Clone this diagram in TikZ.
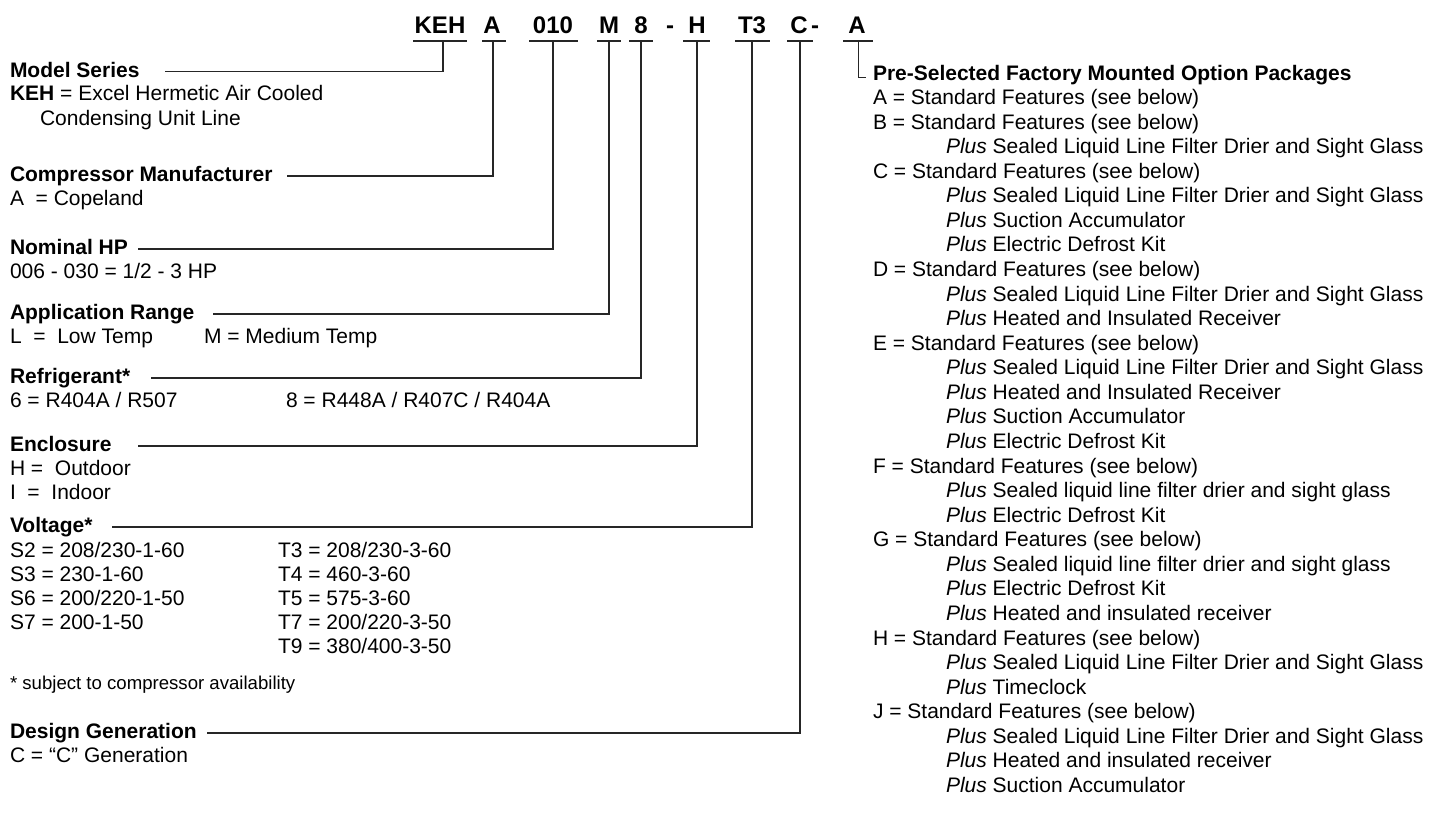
\documentclass[tikz,border=0pt]{standalone}
\usepackage{fontspec}
\setmainfont{Liberation Sans}
\begin{document}
\begin{tikzpicture}[x=1pt,y=-1pt,
  every node/.style={inner sep=0pt,outer sep=0pt},
  txt/.style={anchor=base west,font=\fontsize{21}{24.6}\selectfont},
  small/.style={anchor=base west,font=\fontsize{18.6}{22}\selectfont},
  lbl/.style={anchor=base west,font=\bfseries\fontsize{21}{24.6}\selectfont},
  code/.style={anchor=base,font=\bfseries\fontsize{24}{28}\selectfont},
  conn/.style={line width=1.2pt,black!85},
  uline/.style={line width=1.2pt,black!85}]
\useasboundingbox (0,0) rectangle (1433,819);

% ---- code letters
\node[code] (cKEH) at (440,33) {KEH};
\node[code] (cA)   at (492,33) {A};
\node[code] (cHP)  at (553,33) {010};
\node[code] (cM)   at (609,33) {M};
\node[code] (c8)   at (641,33) {8};
\node[code] (cd1)  at (670,33) {-};
\node[code] (cH)   at (697,33) {H};
\node[code] (cT3)  at (752,33) {T3};
\node[code] (cC)   at (799,33) {C};
\node[code] (cd2)  at (815,33) {-};
\node[code] (cA2)  at (857,33) {A};

% ---- underlines
\draw[uline] (413,41) -- (467,41);
\draw[uline] (482,41) -- (506,41);
\draw[uline] (529,41) -- (578,41);
\draw[uline] (597,41) -- (621,41);
\draw[uline] (629,41) -- (653,41);
\draw[uline] (683,41) -- (710,41);
\draw[uline] (735,41) -- (770,41);
\draw[uline] (787,41) -- (813,41);
\draw[uline] (843,41) -- (873,41);

% ---- connector start points (under the code underlines)
\coordinate (uKEH) at (443,41);
\coordinate (uA)   at (493,41);
\coordinate (uHP)  at (553,41);
\coordinate (uM)   at (609,41);
\coordinate (u8)   at (641,41);
\coordinate (uH)   at (697,41);
\coordinate (uT3)  at (752,41);
\coordinate (uC)   at (800,41);
\coordinate (uA2)  at (858,41);

% ---- connector end points (beside the labels)
\coordinate (eModel) at (165,71.5);
\coordinate (eComp)  at (287,176);
\coordinate (eHP)    at (138,249);
\coordinate (eApp)   at (213,314);
\coordinate (eRef)   at (151,378);
\coordinate (eEnc)   at (138,446);
\coordinate (eVolt)  at (112,527);
\coordinate (eDes)   at (207,733);
\coordinate (eOpt)   at (866,77);

\draw[conn] (uKEH) |- (eModel);
\draw[conn] (uA)   |- (eComp);
\draw[conn] (uHP)  |- (eHP);
\draw[conn] (uM)   |- (eApp);
\draw[conn] (u8)   |- (eRef);
\draw[conn] (uH)   |- (eEnc);
\draw[conn] (uT3)  |- (eVolt);
\draw[conn] (uC)   |- (eDes);
\draw[line width=0.9pt,black!85] (uA2) |- (eOpt);

% ---- left column
\node[lbl] (lModel) at (10,77) {Model Series};
\node[txt] (tModel1) at (10,100.5) {{\bfseries KEH} = Excel Hermetic Air Cooled};
\node[txt] (tModel2) at (40,125) {Condensing Unit Line};

\node[lbl] (lComp) at (10,181.5) {Compressor Manufacturer};
\node[txt] (tComp) at (10,205) {A\ \ = Copeland};

\node[lbl] (lHP) at (10,254.5) {Nominal HP};
\node[txt] (tHP) at (10,278) {006 - 030 = 1/2 - 3 HP};

\node[lbl] (lApp) at (10,319.5) {Application Range};
\node[txt] (tApp1) at (10,343.5) {L\ \ =\ \ Low Temp};
\node[txt] (tApp2) at (204,343.5) {M = Medium Temp};

\node[lbl] (lRef) at (10,383.5) {Refrigerant*};
\node[txt] (tRef1) at (10,407) {6 = R404A / R507};
\node[txt] (tRef2) at (286,407) {8 = R448A / R407C / R404A};

\node[lbl] (lEnc) at (10,451.5) {Enclosure};
\node[txt] (tEnc1) at (10,475.5) {H =\ \ Outdoor};
\node[txt] (tEnc2) at (10,499.5) {I\ \ =\ \ Indoor};

\node[lbl] (lVolt) at (10,532.5) {Voltage*};
\node[txt] (vS2) at (10,557) {S2 = 208/230-1-60};
\node[txt] (vS3) at (10,581) {S3 = 230-1-60};
\node[txt] (vS6) at (10,605) {S6 = 200/220-1-50};
\node[txt] (vS7) at (10,629) {S7 = 200-1-50};
\node[txt] (vT3) at (278,557) {T3 = 208/230-3-60};
\node[txt] (vT4) at (278,581) {T4 = 460-3-60};
\node[txt] (vT5) at (278,605) {T5 = 575-3-60};
\node[txt] (vT7) at (278,629) {T7 = 200/220-3-50};
\node[txt] (vT9) at (278,653) {T9 = 380/400-3-50};

\node[small] (note) at (10,689.5) {* subject to compressor availability};

\node[lbl] (lDes) at (10,738.5) {Design Generation};
\node[txt] (tDes) at (10,762) {C = “C” Generation};

% ---- right column
\node[lbl] (rHead) at (873,80) {Pre-Selected Factory Mounted Option Packages};
\foreach \k/\xx/\t in {
  1/873/{A = Standard Features (see below)},
  2/873/{B = Standard Features (see below)},
  3/946/{\textit{Plus} Sealed Liquid Line Filter Drier and Sight Glass},
  4/873/{C = Standard Features (see below)},
  5/946/{\textit{Plus} Sealed Liquid Line Filter Drier and Sight Glass},
  6/946/{\textit{Plus} Suction Accumulator},
  7/946/{\textit{Plus} Electric Defrost Kit},
  8/873/{D = Standard Features (see below)},
  9/946/{\textit{Plus} Sealed Liquid Line Filter Drier and Sight Glass},
  10/946/{\textit{Plus} Heated and Insulated Receiver},
  11/873/{E = Standard Features (see below)},
  12/946/{\textit{Plus} Sealed Liquid Line Filter Drier and Sight Glass},
  13/946/{\textit{Plus} Heated and Insulated Receiver},
  14/946/{\textit{Plus} Suction Accumulator},
  15/946/{\textit{Plus} Electric Defrost Kit},
  16/873/{F = Standard Features (see below)},
  17/946/{\textit{Plus} Sealed liquid line filter drier and sight glass},
  18/946/{\textit{Plus} Electric Defrost Kit},
  19/873/{G = Standard Features (see below)},
  20/946/{\textit{Plus} Sealed liquid line filter drier and sight glass},
  21/946/{\textit{Plus} Electric Defrost Kit},
  22/946/{\textit{Plus} Heated and insulated receiver},
  23/873/{H = Standard Features (see below)},
  24/946/{\textit{Plus} Sealed Liquid Line Filter Drier and Sight Glass},
  25/946/{\textit{Plus} Timeclock},
  26/873/{J = Standard Features (see below)},
  27/946/{\textit{Plus} Sealed Liquid Line Filter Drier and Sight Glass},
  28/946/{\textit{Plus} Heated and insulated receiver},
  29/946/{\textit{Plus} Suction Accumulator}}
  {\node[txt] (r\k) at (\xx,80+24.57*\k) {\t};}
\end{tikzpicture}
\end{document}
